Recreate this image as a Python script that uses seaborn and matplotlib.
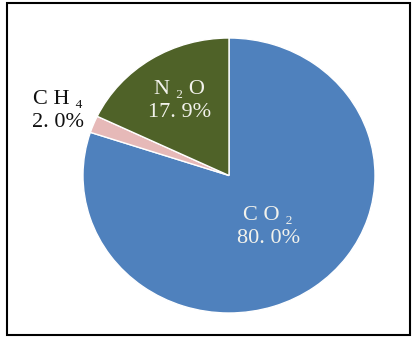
import numpy as np
import matplotlib
matplotlib.use("Agg")
import matplotlib.pyplot as plt
import seaborn as sns
from matplotlib.patches import Rectangle

# Data
gases = ["C O ₂", "C H ₄", "N ₂ O"]
shares = [80.0, 2.0, 17.9]
colors = ["#4F81BD", "#E6B9B8", "#4F6228"]
text_colors = ["#F2F2EC", "#111111", "#F2F2EC"]
label_dist = [0.46, 1.26, 0.64]

sns.set_style("white")
plt.rcParams['font.family'] = ['Liberation Serif', 'DejaVu Serif']

fig = plt.figure(figsize=(4.15, 3.38), dpi=100)
W, H = 415, 338
ax = fig.add_axes([83 / W, (H - 313) / H, 292 / W, 275 / H])

wedges, _ = ax.pie(shares, colors=colors, startangle=90, counterclock=False,
                   wedgeprops=dict(edgecolor="white", linewidth=1.0))
ax.set_aspect("auto")
ax.set_xlim(-1, 1)
ax.set_ylim(-1, 1)
ax.axis("off")

for w, g, v, c, d in zip(wedges, gases, shares, text_colors, label_dist):
    mid = np.deg2rad((w.theta1 + w.theta2) / 2)
    txt = g + "\n" + f"{v:.1f}%".replace(".", ". ")
    ax.text(d * np.cos(mid), d * np.sin(mid), txt, ha="center", va="center",
            color=c, fontsize=16, linespacing=1.3, clip_on=False)

fig.patches.append(Rectangle((7 / W, 3 / H), 403 / W, 332 / H,
                             transform=fig.transFigure, fill=False,
                             edgecolor="black", linewidth=1.5))

fig.savefig("out.png", dpi=100)
